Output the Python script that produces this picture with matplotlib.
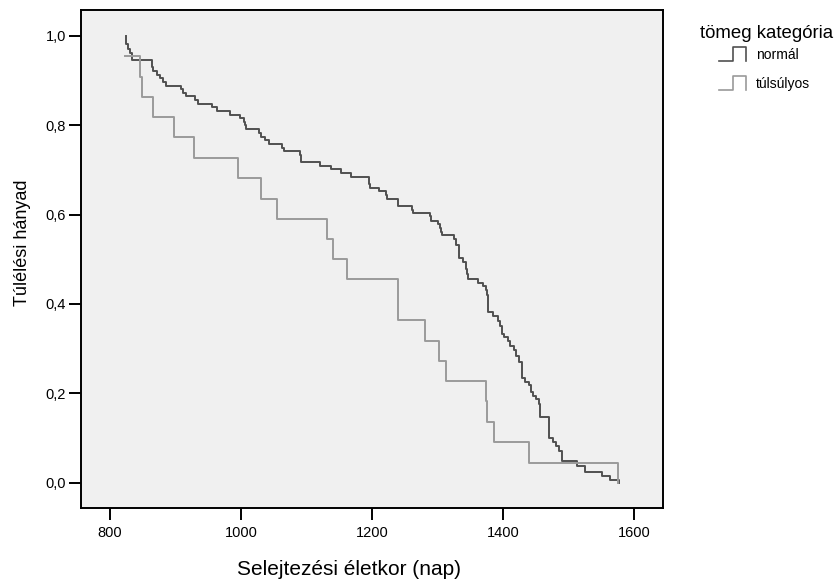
import matplotlib
matplotlib.use("Agg")
import matplotlib.pyplot as plt
from matplotlib.lines import Line2D
from matplotlib.legend_handler import HandlerBase

plt.rcParams['font.family'] = ['Liberation Sans', 'DejaVu Sans']

# Kaplan-Meier becslés, normál testsúlyú csoport (idő, túlélési hányad)
normal_t = [824, 825, 827, 831, 833, 864, 866, 871, 876, 881, 885, 908, 912, 916,
            930, 934, 956, 963, 983, 998, 1004, 1006, 1008, 1028, 1031, 1037, 1043,
            1062, 1066, 1090, 1091, 1092, 1121, 1137, 1153, 1168, 1195, 1196, 1197,
            1210, 1221, 1223, 1239, 1240, 1261, 1263, 1288, 1290, 1300, 1304, 1305,
            1306, 1325, 1328, 1332, 1333, 1338, 1343, 1345, 1346, 1361, 1370, 1374,
            1375, 1377, 1385, 1392, 1395, 1399, 1402, 1407, 1411, 1416, 1419, 1424,
            1429, 1434, 1439, 1442, 1446, 1450, 1454, 1456, 1470, 1476, 1481, 1486,
            1490, 1512, 1525, 1551, 1563, 1577]
normal_s = [1.000, 0.982, 0.971, 0.961, 0.946, 0.931, 0.922, 0.913, 0.905, 0.897,
            0.889, 0.881, 0.873, 0.865, 0.857, 0.848, 0.841, 0.832, 0.824, 0.816,
            0.808, 0.800, 0.791, 0.783, 0.774, 0.767, 0.758, 0.750, 0.742, 0.734,
            0.726, 0.717, 0.709, 0.701, 0.693, 0.685, 0.676, 0.668, 0.660, 0.652,
            0.644, 0.635, 0.627, 0.619, 0.611, 0.604, 0.596, 0.586, 0.578, 0.571,
            0.562, 0.554, 0.546, 0.531, 0.519, 0.504, 0.494, 0.479, 0.467, 0.457,
            0.448, 0.441, 0.431, 0.419, 0.382, 0.374, 0.363, 0.350, 0.333, 0.326,
            0.317, 0.307, 0.298, 0.283, 0.270, 0.235, 0.225, 0.218, 0.203, 0.195,
            0.188, 0.176, 0.146, 0.100, 0.091, 0.081, 0.070, 0.049, 0.038, 0.023,
            0.014, 0.007, 0.000]

# túlsúlyos csoport
tuls_t = [823, 846, 849, 866, 898, 928, 995, 1030, 1055, 1131, 1140, 1161, 1239,
          1281, 1302, 1313, 1374, 1376, 1386, 1439, 1576]
tuls_s = [0.955, 0.909, 0.864, 0.818, 0.773, 0.727, 0.682, 0.636, 0.591, 0.545,
          0.500, 0.455, 0.364, 0.318, 0.273, 0.227, 0.182, 0.136, 0.091, 0.045, 0.000]

xticks = [800, 1000, 1200, 1400, 1600]
yticks = [0.0, 0.2, 0.4, 0.6, 0.8, 1.0]
ytick_labels = [f"{v:.1f}".replace(".", ",") for v in yticks]


class StepHandle(HandlerBase):
    # kis lépcső ikon a jelmagyarázatba
    def create_artists(self, legend, orig_handle, xdescent, ydescent,
                       width, height, fontsize, trans):
        x0 = -xdescent + 0.42 * width
        xm = -xdescent + 0.71 * width
        x1 = -xdescent + width
        y0 = -ydescent
        y1 = -ydescent + height
        ln = Line2D([x0, xm, xm, x1, x1], [y0, y0, y1, y1, y0],
                    color=orig_handle.get_color(), lw=1.2)
        ln.set_transform(trans)
        return [ln]


fig = plt.figure(figsize=(8.39, 5.84), dpi=100)
ax = fig.add_axes([80.7 / 839, 1 - 507.7 / 584, (663 - 80.7) / 839, 497.7 / 584])
ax.set_facecolor('#f0f0f0')

l1, = ax.plot(normal_t, normal_s, drawstyle='steps-post', color='#505050', lw=1.4,
              label='normál')
l2, = ax.plot(tuls_t, tuls_s, drawstyle='steps-post', color='#9a9a9a', lw=1.4,
              label='túlsúlyos')

ax.set_xlim(755.3, 1644)
ax.set_ylim(-0.056, 1.058)
ax.set_xticks(xticks)
ax.set_yticks(yticks)
ax.set_yticklabels(ytick_labels)
ax.tick_params(length=8.5, width=1.4, labelsize=10.5, color='black')
ax.tick_params(axis='x', pad=5)
ax.tick_params(axis='y', pad=2)
for sp in ax.spines.values():
    sp.set_linewidth(1.4)

ax.set_xlabel('Selejtezési életkor (nap)', fontsize=15)
ax.set_ylabel('Túlélési hányad', fontsize=13)
ax.xaxis.set_label_coords(0.461, -0.106)
ax.yaxis.set_label_coords(-0.086, 0.532)

# jelmagyarázat: cím külön szövegként, alatta a két csoport
fig.text(700 / 839, 1 - 33 / 584, 'tömeg kategória', fontsize=13.4,
         ha='left', va='center')
leg = fig.legend(handles=[l1, l2],
                 handler_map={Line2D: StepHandle()},
                 loc='upper left', bbox_to_anchor=(700 / 839, 1 - 47 / 584),
                 frameon=False, fontsize=10,
                 borderpad=0, borderaxespad=0,
                 handlelength=3.3, handleheight=1.15, handletextpad=0.7,
                 labelspacing=1.05)

fig.savefig('out.png', dpi=100)
